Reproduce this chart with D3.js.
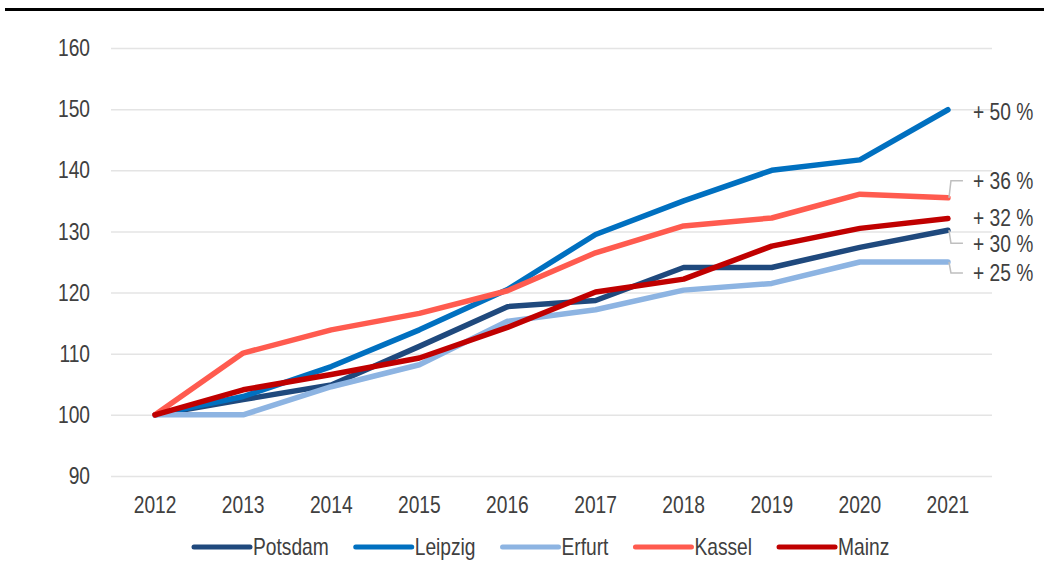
<!DOCTYPE html>
<html>
<head>
<meta charset="utf-8">
<script src="https://cdn.jsdelivr.net/npm/d3@7"></script>
<style>
  body { margin: 0; background: #fff; }
  text { font-family: "Liberation Sans", Arial, sans-serif; fill: #404040; font-size: 24px; }
</style>
</head>
<body>
<svg id="chart"></svg>
<script>
// data
const years = ["2012", "2013", "2014", "2015", "2016", "2017", "2018", "2019", "2020", "2021"];
const cities = ["Potsdam", "Leipzig", "Erfurt", "Kassel", "Mainz"];
const potsdam = [100, 102.5, 104.9, 111.2, 117.7, 118.7, 124.1, 124.1, 127.4, 130.2];
const leipzig = [100, 103.0, 107.9, 113.9, 120.5, 129.5, 135.0, 140.0, 141.7, 149.9];
const erfurt  = [100, 100.0, 104.6, 108.2, 115.3, 117.2, 120.4, 121.5, 125.0, 125.0];
const kassel  = [100, 110.1, 113.9, 116.6, 120.3, 126.5, 130.9, 132.2, 136.1, 135.5];
const mainz   = [100, 104.1, 106.6, 109.3, 114.3, 120.1, 122.2, 127.6, 130.5, 132.1];
const yTicks = [90, 100, 110, 120, 130, 140, 150, 160];
const endLabels = ["+ 30 %", "+ 50 %", "+ 25 %", "+ 36 %", "+ 32 %"];

const series = [potsdam, leipzig, erfurt, kassel, mainz];
const colors = ["#1F497D", "#0070C0", "#8DB4E2", "#FF5B4F", "#C00000"];

// layout
const width = 1044, height = 579;
const plot = { left: 111, right: 992, top: 48, bottom: 476 };
// label nudges (px) from line end, and whether a leader line is drawn
const labelShift = [13, 2, 11, -17, -1];
const hasLeader = [true, false, true, true, false];
const narrowK = 0.8; // Arial Narrow look

// squeeze texts horizontally around their anchor
function narrow(sel) {
    sel.each(function () {
        const t = d3.select(this);
        const tx = +t.attr("x") || 0;
        t.attr("transform", "translate(" + tx * (1 - narrowK) + ",0) scale(" + narrowK + ",1)");
    });
}

const svg = d3.select("#chart")
    .attr("width", width)
    .attr("height", height);

// top rule
svg.append("rect")
    .attr("x", 5).attr("y", 8)
    .attr("width", width - 5).attr("height", 3)
    .attr("fill", "#000");

// scales
const x = d3.scaleBand()
    .domain(years)
    .range([plot.left, plot.right]);

const y = d3.scaleLinear()
    .domain([90, 160])
    .range([plot.bottom, plot.top]);

const cx = function (d) { return x(d) + x.bandwidth() / 2; };

// y axis + grid
const yAxis = svg.append("g")
    .attr("transform", "translate(" + plot.left + ",0)")
    .call(d3.axisLeft(y).tickValues(yTicks).tickSize(-(plot.right - plot.left)).tickPadding(21));
yAxis.select(".domain").remove();
yAxis.attr("font-size", null).attr("font-family", null);
yAxis.selectAll(".tick line").attr("stroke", "#e4e4e4").attr("stroke-width", 1.5);
yAxis.selectAll(".tick text").call(narrow);

// x axis
const xAxis = svg.append("g")
    .attr("transform", "translate(0," + plot.bottom + ")")
    .call(d3.axisBottom(x).tickSize(0).tickPadding(20));
xAxis.select(".domain").remove();
xAxis.attr("font-size", null).attr("font-family", null);
xAxis.selectAll(".tick text").call(narrow);

// lines
const line = d3.line()
    .x(function (d, i) { return cx(years[i]); })
    .y(function (d) { return y(d); });

svg.selectAll(".city")
    .data(series)
    .enter().append("path")
    .attr("class", "city")
    .attr("d", line)
    .attr("fill", "none")
    .attr("stroke", function (d, i) { return colors[i]; })
    .attr("stroke-width", 5.5)
    .attr("stroke-linejoin", "round")
    .attr("stroke-linecap", "round");

// end labels
const lastX = cx(years[years.length - 1]);
series.forEach(function (s, i) {
    const ly = y(s[s.length - 1]);
    const ty = ly + labelShift[i];
    if (hasLeader[i]) {
        svg.append("polyline")
            .attr("points", [[lastX + 1, ly], [lastX + 3, ty], [lastX + 15, ty]].join(" "))
            .attr("fill", "none")
            .attr("stroke", "#bfbfbf")
            .attr("stroke-width", 1.5);
    }
    svg.append("text")
        .attr("x", lastX + 25)
        .attr("y", ty)
        .attr("dy", "0.35em")
        .text(endLabels[i])
        .call(narrow);
});

// legend
const legend = svg.append("g").attr("transform", "translate(194,547)");
let lx = 0;
cities.forEach(function (c, i) {
    legend.append("line")
        .attr("x1", lx).attr("x2", lx + 56)
        .attr("y1", 0).attr("y2", 0)
        .attr("stroke", colors[i])
        .attr("stroke-width", 5)
        .attr("stroke-linecap", "round");
    const t = legend.append("text")
        .attr("x", lx + 59)
        .attr("y", 0)
        .attr("dy", "0.35em")
        .text(c)
        .call(narrow);
    lx += 59 + t.node().getComputedTextLength() * narrowK + 27;
});
</script>
</body>
</html>
